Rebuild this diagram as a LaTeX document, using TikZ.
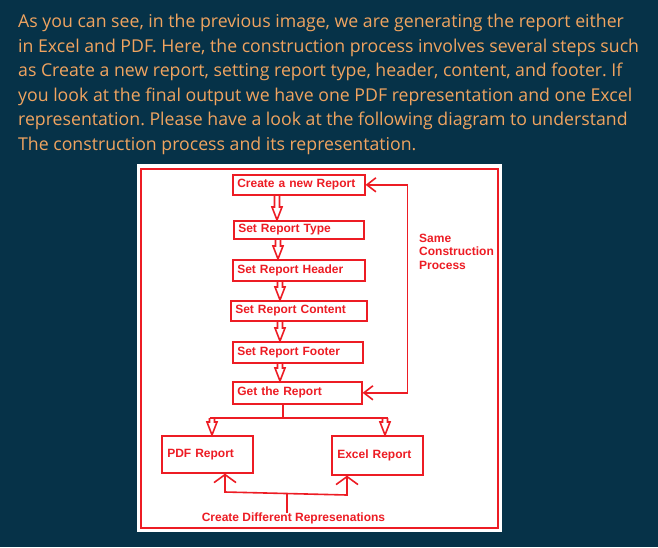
\documentclass[tikz,border=0pt]{standalone}
\usepackage{fontspec}
\setmainfont{Liberation Sans}
\newfontfamily\parafont{Open Sans}
\usetikzlibrary{arrows.meta,calc}
\definecolor{bg}{RGB}{6,50,72}
\definecolor{ptxt}{RGB}{240,164,96}
\definecolor{rred}{RGB}{237,28,36}
\frenchspacing
\tikzset{
  rline/.style={draw=rred, line width=1.6pt, line join=miter},
  stepbox/.style={draw=rred, line width=1.6pt, fill=white, text=rred,
    font=\bfseries\fontsize{12}{14}\selectfont, inner xsep=4.5pt, inner ysep=0pt,
    anchor=north west, align=left},
  lbl/.style={text=rred, font=\bfseries\fontsize{12}{13.5}\selectfont, inner sep=0pt, align=left},
  para/.style={text=ptxt, font=\parafont\fontsize{17.7}{20}\selectfont, inner sep=0pt, anchor=base west},
  barb/.tip={Straight Barb[length=9pt,width=14pt]},
  wbarb/.tip={Straight Barb[length=8pt,width=22pt]}
}
\newcommand\hollowarrow[3]{\draw[rline] let \p1=(#2), \p2=(#3) in
 ({#1pt-2.5pt},\y1) -- ({#1pt-2.5pt},\y2+13pt) -- ({#1pt-5pt},\y2+13pt) -- ({#1pt},\y2)
 -- ({#1pt+5pt},\y2+13pt) -- ({#1pt+2.5pt},\y2+13pt) -- ({#1pt+2.5pt},\y1);}
\begin{document}
\begin{tikzpicture}[x=1pt,y=-1pt]
\fill[bg] (0,0) rectangle (658,547);
\useasboundingbox (0,0) rectangle (658,547);
% paragraph
\node[para] (p1) at (18,27.5) {As you can see, in the previous image, we are generating the report either};
\node[para] (p2) at (18,52) {in Excel and PDF. Here, the construction process involves several steps such};
\node[para] (p3) at (18,76.5) {as Create a new report, setting report type, header, content, and footer. If};
\node[para] (p4) at (18,101) {you look at the final output we have one PDF representation and one Excel};
\node[para] (p5) at (18,125.5) {representation. Please have a look at the following diagram to understand};
\node[para] (p6) at (18,150) {The construction process and its representation.};
% white panel and frame
\fill[white] (137,164) rectangle (502,532);
\draw[rred, line width=2pt] (141,169) rectangle (498,528);
% steps
\node[stepbox, text width=123pt, minimum height=20pt] (cr) at (232,174) {Create a new Report};
\node[stepbox, text width=121pt, minimum height=18pt] (ty) at (233,220) {Set Report Type};
\node[stepbox, text width=123pt, minimum height=21pt] (hd) at (232,259) {Set Report Header};
\node[stepbox, text width=127pt, minimum height=20pt] (ct) at (230,300) {Set Report Content};
\node[stepbox, text width=121pt, minimum height=21pt] (ft) at (232,341) {Set Report Footer};
\node[stepbox, text width=120pt, minimum height=22pt] (gt) at (232,381) {Get the Report};
\node[stepbox, text width=80pt, minimum height=37pt, inner xsep=5.5pt] (pdf) at (161,435) {PDF Report};
\node[stepbox, text width=80pt, minimum height=39pt, inner xsep=5.5pt] (xl) at (331,435) {Excel Report};
% labels
\node[lbl, anchor=west] (same) at (419,251.5) {Same\\Construction\\Process};
\node[lbl] (lb) at (293.5,518) {Create Different Represenations};
% step arrows
\hollowarrow{277}{cr.south}{ty.north}
\hollowarrow{278}{ty.south}{hd.north}
\hollowarrow{280}{hd.south}{ct.north}
\hollowarrow{280}{ct.south}{ft.north}
\hollowarrow{280}{ft.south}{gt.north}
% feedback loop
\draw[rline, barb-barb] (gt.east) -- ++(45,0) |- (cr.east);
% split to outputs
\coordinate (sp) at (283,418);
\coordinate (sl) at (212,418);
\coordinate (sr) at (385,418);
\draw[rline] (gt.south -| sp) -- (sp);
\draw[rline] ([xshift=-2.5pt]sl) -- ([xshift=2.5pt]sr);
\hollowarrow{212}{sl}{pdf.north}
\hollowarrow{385}{sr}{xl.north}
% bottom connector
\coordinate (b1) at (225,492);
\coordinate (b2) at (347,495);
\coordinate (b3) at (287,493.5);
\draw[rline, wbarb-wbarb] (pdf.south -| b1) -- (b1) -- (b2) -- (xl.south -| b2);
\draw[rline] (b3) -- ($(lb.north -| b3)+(0,1)$);
\end{tikzpicture}
\end{document}
